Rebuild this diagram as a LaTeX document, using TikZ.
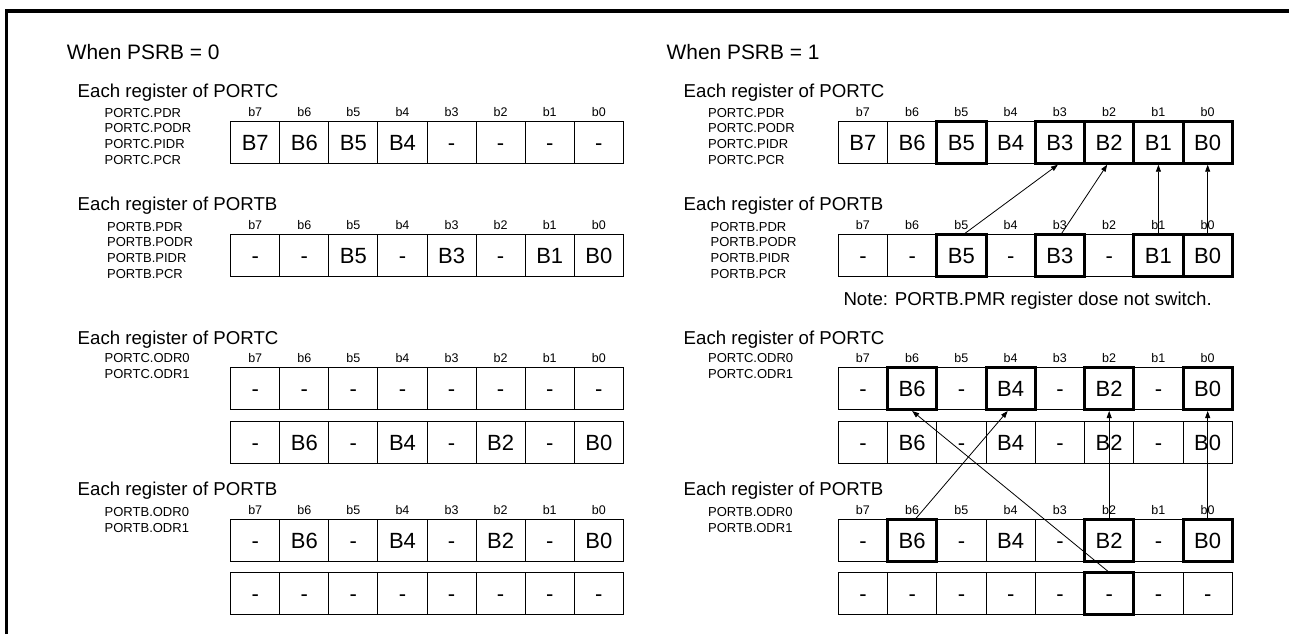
\documentclass[tikz,border=0pt]{standalone}
\usepackage{fontspec}
\setmainfont{Liberation Sans}
\usetikzlibrary{arrows.meta}
\newcommand\regrow[5]{\foreach \cellt [count=\i from 0] in {#5} {\pgfmathtruncatemacro\bitno{7-\i}\node[cell, minimum width=#4pt] (#1\bitno) at ({#2+(\i+0.5)*#4}, {#3+21.1}) {\cellt};}}
\newcommand\bitrow[4]{\foreach \i in {0,...,7} {\pgfmathtruncatemacro\bitno{7-\i}\node[bitlbl] (#1\bitno) at ({#2+(\i+0.5)*#4}, #3) {b\bitno};}}
\newcommand\namelist[5]{\foreach \regn [count=\k from 0] in {#5} {\node[regname] (#1\k) at (#2, {#3+\k*#4}) {\regn};}}
\newcommand\hlcell[1]{\draw[hl] (#1.north west) rectangle (#1.south east);}
\begin{document}
\begin{tikzpicture}[x=1pt, y=-1pt,
  cell/.style={draw, line width=1pt, minimum height=42.2pt, inner sep=0pt, outer sep=0pt, text height=15.8pt, text depth=0pt, font=\fontsize{22}{26}\selectfont},
  hl/.style={draw, line width=3pt},
  bitlbl/.style={anchor=base, inner sep=0pt, font=\fontsize{12.5}{15}\selectfont},
  regname/.style={anchor=base west, inner sep=0pt, font=\fontsize{13}{15}\selectfont},
  ttl/.style={anchor=base west, inner sep=0pt, font=\fontsize{20.9}{25}\selectfont},
  hdr/.style={anchor=base west, inner sep=0pt, font=\fontsize{18.65}{22}\selectfont},
  arr/.style={line width=0.8pt, -{Triangle[length=7pt,width=5pt]}},
  frame/.style={line width=3.3pt}]
\useasboundingbox (0,0) rectangle (1289,634);
\draw[frame] (6.7,634) -- (6.7,11) -- (1289,11);
% ---------------- left: PSRB = 0
\node[ttl] (tL) at (66.6,59.3) {When PSRB = 0};
\node[hdr] (hL1) at (77.5,97.5) {Each register of PORTC};
\namelist{nL1}{104.5}{117}{15.67}{PORTC.PDR,PORTC.PODR,PORTC.PIDR,PORTC.PCR}
\bitrow{L1b}{230.7}{116}{49.08}
\regrow{L1c}{230.7}{121}{49.08}{B7,B6,B5,B4,-,-,-,-}
\node[hdr] (hL2) at (77.5,210.5) {Each register of PORTB};
\namelist{nL2}{107}{231}{15.67}{PORTB.PDR,PORTB.PODR,PORTB.PIDR,PORTB.PCR}
\bitrow{L2b}{230.7}{229.5}{49.08}
\regrow{L2c}{230.7}{234.5}{49.08}{-,-,B5,-,B3,-,B1,B0}
\node[hdr] (hL3) at (77.5,344.3) {Each register of PORTC};
\namelist{nL3}{104.5}{362.5}{16}{PORTC.ODR0,PORTC.ODR1}
\bitrow{L3b}{230.7}{362}{49.08}
\regrow{L3c}{230.7}{367.3}{49.08}{-,-,-,-,-,-,-,-}
\regrow{L4c}{230.7}{421}{49.08}{-,B6,-,B4,-,B2,-,B0}
\node[hdr] (hL5) at (77.5,495.7) {Each register of PORTB};
\namelist{nL5}{104.5}{516}{16}{PORTB.ODR0,PORTB.ODR1}
\bitrow{L5b}{230.7}{514.3}{49.08}
\regrow{L5c}{230.7}{519.3}{49.08}{-,B6,-,B4,-,B2,-,B0}
\regrow{L6c}{230.7}{572.3}{49.08}{-,-,-,-,-,-,-,-}
% ---------------- right: PSRB = 1
\node[ttl] (tR) at (666.5,59.3) {When PSRB = 1};
\node[hdr] (hR1) at (683.5,97.5) {Each register of PORTC};
\namelist{nR1}{708}{117}{15.67}{PORTC.PDR,PORTC.PODR,PORTC.PIDR,PORTC.PCR}
\bitrow{R1b}{838.3}{116}{49.25}
\regrow{R1c}{838.3}{121}{49.25}{B7,B6,B5,B4,B3,B2,B1,B0}
\node[hdr] (hR2) at (683.5,210.5) {Each register of PORTB};
\namelist{nR2}{710.5}{231}{15.67}{PORTB.PDR,PORTB.PODR,PORTB.PIDR,PORTB.PCR}
\bitrow{R2b}{838.3}{229.5}{49.25}
\regrow{R2c}{838.3}{234.5}{49.25}{-,-,B5,-,B3,-,B1,B0}
\node[hdr] (note) at (843.3,305) {Note: PORTB.PMR register dose not switch.};
\node[hdr] (hR3) at (683.5,344.3) {Each register of PORTC};
\namelist{nR3}{708}{362.5}{16}{PORTC.ODR0,PORTC.ODR1}
\bitrow{R3b}{838.3}{362}{49.25}
\regrow{R3c}{838.3}{367.3}{49.25}{-,B6,-,B4,-,B2,-,B0}
\regrow{R4c}{838.3}{421}{49.25}{-,B6,-,B4,-,B2,-,B0}
\node[hdr] (hR5) at (683.5,495.7) {Each register of PORTB};
\namelist{nR5}{708}{516}{16}{PORTB.ODR0,PORTB.ODR1}
\bitrow{R5b}{838.3}{514.3}{49.25}
\regrow{R5c}{838.3}{519.3}{49.25}{-,B6,-,B4,-,B2,-,B0}
\regrow{R6c}{838.3}{572.3}{49.25}{-,-,-,-,-,-,-,-}
% highlighted cells
\foreach \b in {5,3,2,1,0} {\hlcell{R1c\b}}
\foreach \b in {5,3,1,0} {\hlcell{R2c\b}}
\foreach \b in {6,4,2,0} {\hlcell{R3c\b}}
\foreach \b in {6,2,0} {\hlcell{R5c\b}}
\hlcell{R6c2}
% arrows
\draw[arr] ([xshift=2pt]R2c5.north) -- ([xshift=-2pt,yshift=-1.5pt]R1c3.south);
\draw[arr] ([xshift=1pt]R2c3.north) -- ([xshift=-2pt,yshift=-1.5pt]R1c2.south);
\draw[arr] (R2c1.north) -- ([yshift=-1.5pt]R1c1.south);
\draw[arr] (R2c0.north) -- ([yshift=-1.5pt]R1c0.south);
\draw[arr] ([xshift=3pt]R5c6.north) -- ([xshift=-3pt,yshift=-1.5pt]R3c4.south);
\draw[arr] (R6c2.north) -- ([yshift=-1.5pt]R3c6.south);
\draw[arr] (R5c2.north) -- ([yshift=-1.5pt]R3c2.south);
\draw[arr] (R5c0.north) -- ([yshift=-1.5pt]R3c0.south);
\end{tikzpicture}
\end{document}
